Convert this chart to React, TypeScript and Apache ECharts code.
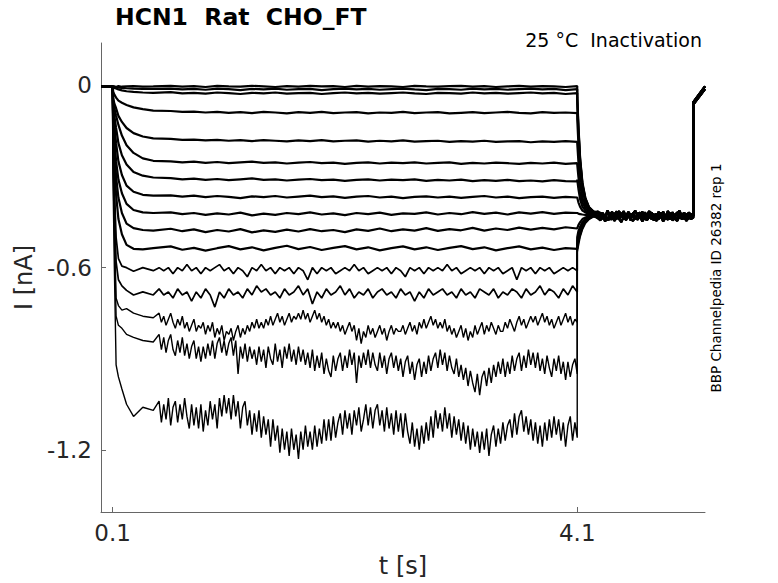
import React, { useEffect, useRef } from "react";
import * as echarts from "echarts";

// ---------- axes ----------
const X_TICKS = [0.1, 4.1];
const Y_TICKS = [-1.2, -0.6, 0];

// ---------- time bases (s) ----------
const T_PRE = [0, 0.1];
const PRE = [-0.002, -0.003];
const T_ACT = [0.105, 0.115, 0.13, 0.15, 0.18, 0.22, 0.28, 0.36, 0.45];
const T_Q = [0.6,0.7,0.8,0.9,1.0,1.1,1.2,1.3,1.4,1.5,1.6,1.7,1.8,1.9,2.0,2.1,2.2,2.3,2.4,2.5,2.6,2.7,2.8,2.9,3.0,3.1,3.2,3.3,3.4,3.5,3.6,3.7,3.8,3.9,4.0,4.1];
const T_N = [0.5,0.54,0.58,0.62,0.66,0.7,0.74,0.78,0.82,0.86,
  0.9,0.94,0.98,1.02,1.06,1.1,1.14,1.18,1.22,1.26,
  1.3,1.34,1.38,1.42,1.46,1.5,1.54,1.58,1.62,1.66,
  1.7,1.74,1.78,1.82,1.86,1.9,1.94,1.98,2.02,2.06,
  2.1,2.14,2.18,2.22,2.26,2.3,2.34,2.38,2.42,2.46,
  2.5,2.54,2.58,2.62,2.66,2.7,2.74,2.78,2.82,2.86,
  2.9,2.94,2.98,3.02,3.06,3.1,3.14,3.18,3.22,3.26,
  3.3,3.34,3.38,3.42,3.46,3.5,3.54,3.58,3.62,3.66,
  3.7,3.74,3.78,3.82,3.86,3.9,3.94,3.98,4.02,4.06,
  4.1];
const T_F = [0.5,0.52,0.54,0.56,0.58,0.6,0.62,0.64,0.66,0.68,
  0.7,0.72,0.74,0.76,0.78,0.8,0.82,0.84,0.86,0.88,
  0.9,0.92,0.94,0.96,0.98,1.0,1.02,1.04,1.06,1.08,
  1.1,1.12,1.14,1.16,1.18,1.2,1.22,1.24,1.26,1.28,
  1.3,1.32,1.34,1.36,1.38,1.4,1.42,1.44,1.46,1.48,
  1.5,1.52,1.54,1.56,1.58,1.6,1.62,1.64,1.66,1.68,
  1.7,1.72,1.74,1.76,1.78,1.8,1.82,1.84,1.86,1.88,
  1.9,1.92,1.94,1.96,1.98,2.0,2.02,2.04,2.06,2.08,
  2.1,2.12,2.14,2.16,2.18,2.2,2.22,2.24,2.26,2.28,
  2.3,2.32,2.34,2.36,2.38,2.4,2.42,2.44,2.46,2.48,
  2.5,2.52,2.54,2.56,2.58,2.6,2.62,2.64,2.66,2.68,
  2.7,2.72,2.74,2.76,2.78,2.8,2.82,2.84,2.86,2.88,
  2.9,2.92,2.94,2.96,2.98,3.0,3.02,3.04,3.06,3.08,
  3.1,3.12,3.14,3.16,3.18,3.2,3.22,3.24,3.26,3.28,
  3.3,3.32,3.34,3.36,3.38,3.4,3.42,3.44,3.46,3.48,
  3.5,3.52,3.54,3.56,3.58,3.6,3.62,3.64,3.66,3.68,
  3.7,3.72,3.74,3.76,3.78,3.8,3.82,3.84,3.86,3.88,
  3.9,3.92,3.94,3.96,3.98,4.0,4.02,4.04,4.06,4.08,
  4.1];
const T_DEC = [4.1, 4.11, 4.125, 4.145, 4.17, 4.2, 4.24];
const T_BAND = [4.28,4.3,4.32,4.34,4.36,4.38,4.4,4.42,4.44,4.46,
  4.48,4.5,4.52,4.54,4.56,4.58,4.6,4.62,4.64,4.66,
  4.68,4.7,4.72,4.74,4.76,4.78,4.8,4.82,4.84,4.86,
  4.88,4.9,4.92,4.94,4.96,4.98,5.0,5.02,5.04,5.06,
  5.08,5.1];
const T_POST = [5.1, 5.2];

// ---------- activation (nA) ----------
const A1 = [-0.004,-0.003,-0.005,-0.002,-0.004,-0.003,-0.002,-0.004,-0.003];
const A2 = [-0.004,-0.005,-0.006,-0.007,-0.008,-0.009,-0.010,-0.011,-0.011];
const A3 = [-0.006,-0.008,-0.010,-0.013,-0.016,-0.019,-0.021,-0.023,-0.024];
const A4 = [-0.02,-0.03,-0.04,-0.05,-0.057,-0.064,-0.072,-0.078,-0.083];
const A5 = [-0.04,-0.06,-0.075,-0.10,-0.12,-0.14,-0.157,-0.168,-0.174];
const A6 = [-0.06,-0.075,-0.10,-0.13,-0.165,-0.197,-0.222,-0.24,-0.248];
const A7 = [-0.08,-0.10,-0.14,-0.19,-0.23,-0.26,-0.285,-0.297,-0.303];
const A8 = [-0.10,-0.13,-0.19,-0.25,-0.295,-0.33,-0.35,-0.36,-0.363];
const A9 = [-0.12,-0.17,-0.25,-0.31,-0.355,-0.39,-0.41,-0.418,-0.42];
const A10 = [-0.15,-0.21,-0.30,-0.37,-0.42,-0.455,-0.47,-0.476,-0.478];
const A11 = [-0.18,-0.26,-0.36,-0.44,-0.49,-0.525,-0.538,-0.54,-0.536];
const A12 = [-0.22,-0.33,-0.50,-0.57,-0.595,-0.60,-0.612,-0.60,-0.61];
const A13 = [-0.25,-0.38,-0.58,-0.64,-0.66,-0.675,-0.69,-0.68,-0.69];
const A14 = [-0.28,-0.45,-0.70,-0.725,-0.74,-0.735,-0.75,-0.76,-0.765];
const A15 = [-0.30,-0.50,-0.76,-0.79,-0.80,-0.82,-0.83,-0.84,-0.845];
const A16 = [-0.35,-0.60,-0.92,-0.96,-1.00,-1.05,-1.09,-1.06,-1.07];

// ---------- steady state, quiet traces on T_Q ----------
const S1 = [-0.001,-0.004,-0.002,-0.005,-0.001,-0.003,-0.004,-0.001,-0.003,-0.005,-0.002,-0.004,
  -0.001,-0.003,-0.002,-0.005,-0.001,-0.004,-0.002,-0.003,-0.005,-0.001,-0.003,-0.004,
  -0.002,-0.001,-0.004,-0.002,-0.005,-0.003,-0.001,-0.004,-0.002,-0.003,-0.005,-0.002];
const S2 = [-0.010,-0.013,-0.011,-0.014,-0.010,-0.012,-0.015,-0.011,-0.013,-0.010,-0.014,-0.012,
  -0.011,-0.015,-0.012,-0.010,-0.013,-0.011,-0.014,-0.012,-0.010,-0.013,-0.015,-0.011,
  -0.012,-0.014,-0.010,-0.013,-0.011,-0.014,-0.012,-0.010,-0.013,-0.011,-0.015,-0.012];
const S3 = [-0.022,-0.026,-0.024,-0.027,-0.023,-0.025,-0.028,-0.024,-0.026,-0.023,-0.027,-0.025,
  -0.024,-0.028,-0.025,-0.023,-0.026,-0.024,-0.027,-0.025,-0.023,-0.026,-0.028,-0.024,
  -0.025,-0.027,-0.023,-0.026,-0.024,-0.027,-0.025,-0.023,-0.026,-0.024,-0.028,-0.025];
const S4 = [-0.084,-0.087,-0.086,-0.089,-0.087,-0.090,-0.088,-0.091,-0.087,-0.089,-0.092,-0.088,
  -0.090,-0.087,-0.091,-0.089,-0.088,-0.092,-0.089,-0.090,-0.087,-0.091,-0.089,-0.088,
  -0.092,-0.090,-0.088,-0.091,-0.089,-0.087,-0.090,-0.092,-0.088,-0.090,-0.089,-0.091];
const S5 = [-0.176,-0.179,-0.178,-0.181,-0.179,-0.182,-0.180,-0.183,-0.180,-0.182,-0.184,-0.181,
  -0.183,-0.180,-0.184,-0.182,-0.181,-0.185,-0.182,-0.184,-0.181,-0.185,-0.183,-0.182,
  -0.186,-0.183,-0.185,-0.182,-0.186,-0.184,-0.183,-0.187,-0.184,-0.186,-0.183,-0.186];
const S6 = [-0.250,-0.253,-0.251,-0.255,-0.252,-0.256,-0.253,-0.251,-0.255,-0.253,-0.257,-0.254,
  -0.252,-0.256,-0.254,-0.258,-0.255,-0.253,-0.257,-0.254,-0.256,-0.253,-0.257,-0.255,
  -0.253,-0.258,-0.255,-0.257,-0.254,-0.256,-0.258,-0.255,-0.257,-0.254,-0.258,-0.256];
const S7 = [-0.305,-0.309,-0.307,-0.311,-0.308,-0.312,-0.309,-0.306,-0.311,-0.309,-0.313,-0.310,
  -0.308,-0.312,-0.310,-0.314,-0.311,-0.309,-0.313,-0.310,-0.312,-0.309,-0.314,-0.311,
  -0.313,-0.310,-0.315,-0.312,-0.314,-0.311,-0.315,-0.313,-0.316,-0.312,-0.315,-0.316];
const S8 = [-0.362,-0.366,-0.363,-0.368,-0.364,-0.367,-0.371,-0.365,-0.368,-0.364,-0.369,-0.366,
  -0.363,-0.368,-0.365,-0.370,-0.366,-0.364,-0.369,-0.366,-0.371,-0.367,-0.365,-0.369,
  -0.366,-0.370,-0.367,-0.364,-0.369,-0.366,-0.371,-0.368,-0.366,-0.370,-0.367,-0.369];
const S9 = [-0.418,-0.424,-0.420,-0.426,-0.421,-0.425,-0.419,-0.428,-0.422,-0.426,-0.420,-0.424,
  -0.418,-0.425,-0.421,-0.427,-0.420,-0.424,-0.419,-0.426,-0.421,-0.423,-0.418,-0.425,
  -0.420,-0.424,-0.417,-0.423,-0.419,-0.425,-0.418,-0.422,-0.417,-0.423,-0.419,-0.420];
const S10 = [-0.472,-0.480,-0.474,-0.483,-0.476,-0.481,-0.473,-0.484,-0.477,-0.482,-0.475,-0.481,
  -0.473,-0.480,-0.476,-0.483,-0.474,-0.479,-0.471,-0.480,-0.474,-0.478,-0.470,-0.479,
  -0.473,-0.477,-0.469,-0.478,-0.471,-0.476,-0.468,-0.475,-0.469,-0.474,-0.467,-0.471];
const S11 = [-0.530,-0.541,-0.535,-0.544,-0.536,-0.529,-0.540,-0.533,-0.543,-0.535,-0.528,-0.539,
  -0.532,-0.542,-0.535,-0.529,-0.540,-0.533,-0.543,-0.536,-0.530,-0.540,-0.533,-0.542,
  -0.535,-0.529,-0.539,-0.533,-0.543,-0.536,-0.530,-0.540,-0.534,-0.542,-0.536,-0.538];

// ---------- steady state, noisier traces on T_N ----------
const S12 = [-0.60,-0.61,-0.60,-0.62,-0.60,-0.61,-0.59,-0.61,-0.60,-0.62,
  -0.60,-0.61,-0.60,-0.59,-0.61,-0.60,-0.62,-0.60,-0.61,-0.63,
  -0.60,-0.61,-0.59,-0.61,-0.60,-0.62,-0.60,-0.61,-0.60,-0.62,
  -0.60,-0.61,-0.64,-0.60,-0.62,-0.60,-0.61,-0.60,-0.62,-0.61,
  -0.60,-0.61,-0.59,-0.61,-0.60,-0.62,-0.61,-0.60,-0.61,-0.60,
  -0.62,-0.60,-0.61,-0.63,-0.60,-0.61,-0.60,-0.62,-0.60,-0.61,
  -0.60,-0.61,-0.59,-0.61,-0.60,-0.62,-0.61,-0.60,-0.61,-0.60,
  -0.62,-0.60,-0.61,-0.60,-0.62,-0.61,-0.60,-0.64,-0.60,-0.61,
  -0.60,-0.62,-0.60,-0.61,-0.60,-0.62,-0.61,-0.60,-0.61,-0.60,
  -0.61];
const S13 = [-0.67,-0.69,-0.68,-0.70,-0.67,-0.69,-0.68,-0.71,-0.68,-0.70,
  -0.67,-0.69,-0.73,-0.68,-0.70,-0.67,-0.69,-0.68,-0.70,-0.67,
  -0.69,-0.66,-0.68,-0.67,-0.69,-0.68,-0.70,-0.67,-0.69,-0.68,
  -0.66,-0.69,-0.67,-0.72,-0.68,-0.70,-0.67,-0.69,-0.68,-0.66,
  -0.69,-0.67,-0.70,-0.68,-0.69,-0.67,-0.70,-0.68,-0.67,-0.69,
  -0.68,-0.70,-0.67,-0.69,-0.68,-0.71,-0.68,-0.70,-0.67,-0.69,
  -0.68,-0.67,-0.69,-0.68,-0.70,-0.67,-0.69,-0.68,-0.70,-0.67,
  -0.68,-0.69,-0.67,-0.70,-0.68,-0.69,-0.67,-0.68,-0.70,-0.67,
  -0.69,-0.68,-0.66,-0.69,-0.67,-0.68,-0.70,-0.67,-0.69,-0.66,
  -0.68];

// ---------- steady state, noisiest traces on T_F ----------
const S14 = [-0.75,-0.78,-0.76,-0.79,-0.77,-0.75,-0.78,-0.80,-0.77,-0.79,-0.76,-0.80,-0.78,-0.81,-0.79,-0.77,-0.81,-0.79,
  -0.80,-0.78,-0.82,-0.79,-0.81,-0.78,-0.83,-0.80,-0.82,-0.79,-0.84,-0.81,
  -0.82,-0.80,-0.84,-0.81,-0.79,-0.83,-0.80,-0.82,-0.79,-0.81,-0.78,-0.80,-0.77,-0.80,
  -0.78,-0.80,-0.77,-0.79,-0.76,-0.79,-0.77,-0.75,-0.78,-0.76,-0.79,-0.77,-0.75,-0.78,-0.76,-0.77,
  -0.75,-0.77,-0.74,-0.77,-0.75,-0.78,-0.76,-0.74,-0.77,-0.75,-0.78,-0.76,-0.79,-0.77,-0.80,-0.78,
  -0.80,-0.78,-0.81,-0.79,-0.82,-0.80,-0.78,-0.81,-0.79,-0.84,-0.80,-0.85,-0.81,-0.83,
  -0.79,-0.82,-0.80,-0.83,-0.81,-0.79,-0.82,-0.80,-0.84,-0.81,-0.79,-0.82,-0.80,-0.81,
  -0.81,-0.79,-0.82,-0.80,-0.78,-0.81,-0.79,-0.82,-0.78,-0.80,-0.77,-0.80,-0.78,-0.76,-0.79,-0.77,-0.80,-0.78,
  -0.80,-0.77,-0.81,-0.79,-0.82,-0.80,-0.83,-0.81,-0.79,-0.83,
  -0.80,-0.84,-0.81,-0.83,-0.79,-0.82,-0.80,-0.78,-0.82,-0.79,-0.81,-0.78,-0.80,-0.82,-0.79,-0.81,
  -0.81,-0.78,-0.80,-0.77,-0.79,-0.81,-0.78,-0.76,-0.79,-0.77,-0.80,-0.78,-0.76,-0.78,
  -0.76,-0.79,-0.77,-0.75,-0.78,-0.76,-0.79,-0.77,-0.80,-0.78,-0.76,-0.79,-0.77,-0.75,-0.78,-0.76,-0.79,-0.77,-0.78];
const S15 = [-0.82,-0.87,-0.83,-0.88,-0.84,-0.82,-0.87,-0.89,-0.84,-0.88,-0.83,-0.89,-0.85,-0.90,-0.86,-0.84,-0.90,-0.86,
  -0.91,-0.86,-0.90,-0.85,-0.89,-0.84,-0.90,-0.85,-0.83,-0.88,-0.84,-0.89,
  -0.85,-0.83,-0.89,-0.84,-0.95,-0.86,-0.90,-0.85,-0.91,-0.86,-0.90,-0.87,
  -0.92,-0.86,-0.91,-0.87,-0.93,-0.86,-0.90,-0.92,-0.85,-0.91,-0.87,-0.93,-0.86,-0.90,-0.85,-0.91,-0.87,-0.92,
  -0.86,-0.91,-0.87,-0.92,-0.88,-0.93,-0.87,-0.94,-0.89,-0.93,-0.88,-0.95,-0.90,-0.94,
  -0.96,-0.89,-0.94,-0.90,-0.88,-0.94,-0.89,-0.93,-0.87,-0.92,-0.88,-0.98,-0.89,-0.93,-0.88,-0.92,
  -0.87,-0.93,-0.88,-0.92,-0.94,-0.88,-0.93,-0.89,-0.95,-0.90,
  -0.88,-0.93,-0.89,-0.94,-0.90,-0.96,-0.91,-0.89,-0.95,-0.91,-0.97,-0.92,
  -0.90,-0.96,-0.91,-0.95,-0.89,-0.94,-0.90,-0.88,-0.93,-0.87,
  -0.92,-0.88,-0.94,-0.89,-0.93,-0.95,-0.90,-0.96,-0.92,-0.97,-0.93,-0.99,-0.94,-0.98,
  -1.01,-0.95,-1.02,-0.96,-0.94,-0.99,-0.93,-0.98,-0.92,-0.96,-0.91,-0.95,
  -0.90,-0.96,-0.91,-0.95,-0.89,-0.94,-0.90,-0.88,-0.94,-0.89,-0.93,-0.87,-0.92,-0.88,
  -0.93,-0.88,-0.94,-0.90,-0.95,-0.89,-0.93,-0.96,-0.90,-0.94,-0.89,-0.95,-0.91,-0.97,
  -0.91,-0.96,-0.92,-0.90,-0.95];
const S16 = [-1.04,-1.11,-1.05,-1.10,-1.03,-1.12,-1.06,-1.04,-1.11,-1.05,
  -1.10,-1.03,-1.09,-1.13,-1.05,-1.12,-1.06,-1.13,
  -1.05,-1.14,-1.07,-1.12,-1.04,-1.10,-1.05,-1.13,-1.03,-1.09,-1.02,-1.08,
  -1.03,-1.10,-1.02,-1.09,-1.04,-1.13,-1.06,-1.04,-1.12,-1.07,-1.15,-1.08,
  -1.14,-1.07,-1.16,-1.09,-1.15,-1.10,-1.19,-1.10,-1.17,-1.12,-1.21,-1.13,-1.20,-1.14,
  -1.22,-1.13,-1.20,-1.15,-1.23,-1.14,-1.20,-1.12,-1.19,-1.14,
  -1.20,-1.12,-1.19,-1.13,-1.18,-1.10,-1.17,-1.10,
  -1.17,-1.09,-1.16,-1.11,-1.08,-1.15,-1.07,-1.13,
  -1.08,-1.15,-1.07,-1.12,-1.06,-1.14,-1.10,-1.05,-1.12,-1.06,-1.13,-1.07,
  -1.05,-1.12,-1.07,-1.14,-1.06,-1.13,-1.08,-1.15,-1.07,-1.14,
  -1.08,-1.16,-1.08,-1.14,-1.18,-1.11,-1.19,-1.13,
  -1.20,-1.12,-1.18,-1.11,-1.17,-1.09,-1.16,-1.07,-1.13,-1.08,
  -1.14,-1.06,-1.13,-1.08,-1.16,-1.09,-1.15,-1.10,
  -1.17,-1.11,-1.18,-1.12,-1.20,-1.13,-1.19,-1.14,
  -1.21,-1.14,-1.20,-1.13,-1.22,-1.15,-1.12,-1.19,-1.13,-1.18,
  -1.11,-1.17,-1.12,-1.10,-1.16,-1.08,-1.15,-1.09,
  -1.07,-1.14,-1.09,-1.15,-1.10,-1.17,-1.11,-1.18,
  -1.12,-1.19,-1.11,-1.17,-1.10,-1.16,-1.09,-1.15,
  -1.10,-1.17,-1.11,-1.19,-1.12,-1.09,-1.17,-1.11,-1.16];

// ---------- tail decay after 4.1 s (on T_DEC) ----------
const D1 = [-0.03,-0.13,-0.24,-0.32,-0.37,-0.40,-0.415];
const D2 = [-0.04,-0.14,-0.245,-0.325,-0.372,-0.40,-0.415];
const D3 = [-0.05,-0.15,-0.25,-0.33,-0.375,-0.402,-0.416];
const D4 = [-0.11,-0.19,-0.28,-0.345,-0.385,-0.405,-0.418];
const D5 = [-0.19,-0.25,-0.32,-0.37,-0.395,-0.41,-0.42];
const D6 = [-0.26,-0.30,-0.35,-0.385,-0.405,-0.415,-0.422];
const D7 = [-0.31,-0.34,-0.375,-0.40,-0.412,-0.42,-0.424];
const D8 = [-0.37,-0.385,-0.40,-0.412,-0.418,-0.422,-0.425];
const D9 = [-0.42,-0.422,-0.424,-0.425,-0.426,-0.426,-0.426];
const D10 = [-0.47,-0.46,-0.45,-0.44,-0.435,-0.43,-0.428];
const D11 = [-0.50,-0.48,-0.465,-0.45,-0.44,-0.433,-0.43];
const D12 = [-0.51,-0.49,-0.47,-0.455,-0.443,-0.435,-0.43];
const D13 = [-0.52,-0.50,-0.48,-0.46,-0.445,-0.437,-0.43];
const D14 = [-0.53,-0.51,-0.49,-0.465,-0.448,-0.438,-0.432];
const D15 = [-0.54,-0.52,-0.495,-0.47,-0.45,-0.44,-0.432];
const D16 = [-0.55,-0.53,-0.50,-0.475,-0.455,-0.442,-0.433];

// ---------- tail plateau (on T_BAND) ----------
const BAND_A = [-0.42,-0.435,-0.422,-0.438,-0.418,-0.43,-0.442,-0.425,-0.415,-0.432,-0.42,-0.44,-0.428,-0.418,-0.436,-0.424,-0.44,-0.42,-0.432,-0.416,-0.43,-0.444,-0.426,-0.418,-0.434,-0.422,-0.44,-0.428,-0.416,-0.432,-0.424,-0.442,-0.42,-0.43,-0.418,-0.436,-0.426,-0.44,-0.422,-0.432,-0.425,-0.43];
const BAND_B = [-0.432,-0.418,-0.44,-0.425,-0.445,-0.428,-0.416,-0.436,-0.422,-0.44,-0.43,-0.414,-0.434,-0.426,-0.444,-0.42,-0.438,-0.428,-0.418,-0.442,-0.424,-0.436,-0.416,-0.43,-0.445,-0.422,-0.434,-0.418,-0.44,-0.426,-0.436,-0.42,-0.438,-0.428,-0.444,-0.422,-0.434,-0.418,-0.438,-0.426,-0.434,-0.428];
const BAND_C = [-0.415,-0.428,-0.42,-0.434,-0.412,-0.426,-0.418,-0.436,-0.424,-0.414,-0.43,-0.42,-0.438,-0.416,-0.428,-0.422,-0.412,-0.432,-0.42,-0.436,-0.418,-0.426,-0.414,-0.43,-0.424,-0.438,-0.416,-0.428,-0.42,-0.434,-0.414,-0.426,-0.418,-0.432,-0.422,-0.412,-0.43,-0.42,-0.434,-0.418,-0.426,-0.422];
const BAND_D = [-0.438,-0.444,-0.43,-0.448,-0.434,-0.442,-0.428,-0.446,-0.436,-0.44,-0.45,-0.432,-0.444,-0.428,-0.44,-0.446,-0.434,-0.442,-0.43,-0.448,-0.436,-0.444,-0.432,-0.44,-0.428,-0.446,-0.438,-0.432,-0.448,-0.436,-0.442,-0.43,-0.444,-0.438,-0.446,-0.432,-0.44,-0.434,-0.446,-0.436,-0.44,-0.435];

// ---------- after 5.1 s (on T_POST) ----------
const POST_A = [-0.055, -0.003];
const POST_B = [-0.062, -0.012];

const TRACES = [
  { act: A1, tss: T_Q, ss: S1, dec: D1, band: BAND_A, post: POST_A, w: 2.2 },
  { act: A2, tss: T_Q, ss: S2, dec: D2, band: BAND_B, post: POST_B, w: 2.2 },
  { act: A3, tss: T_Q, ss: S3, dec: D3, band: BAND_C, post: POST_A, w: 2.2 },
  { act: A4, tss: T_Q, ss: S4, dec: D4, band: BAND_D, post: POST_B, w: 2.2 },
  { act: A5, tss: T_Q, ss: S5, dec: D5, band: BAND_A, post: POST_A, w: 2.2 },
  { act: A6, tss: T_Q, ss: S6, dec: D6, band: BAND_B, post: POST_B, w: 2.2 },
  { act: A7, tss: T_Q, ss: S7, dec: D7, band: BAND_C, post: POST_A, w: 2.2 },
  { act: A8, tss: T_Q, ss: S8, dec: D8, band: BAND_D, post: POST_B, w: 2.2 },
  { act: A9, tss: T_Q, ss: S9, dec: D9, band: BAND_A, post: POST_A, w: 2.2 },
  { act: A10, tss: T_Q, ss: S10, dec: D10, band: BAND_B, post: POST_B, w: 2.2 },
  { act: A11, tss: T_Q, ss: S11, dec: D11, band: BAND_C, post: POST_A, w: 2.2 },
  { act: A12, tss: T_N, ss: S12, dec: D12, band: BAND_D, post: POST_B, w: 1.7 },
  { act: A13, tss: T_N, ss: S13, dec: D13, band: BAND_A, post: POST_A, w: 1.7 },
  { act: A14, tss: T_F, ss: S14, dec: D14, band: BAND_B, post: POST_B, w: 1.4 },
  { act: A15, tss: T_F, ss: S15, dec: D15, band: BAND_C, post: POST_A, w: 1.4 },
  { act: A16, tss: T_F, ss: S16, dec: D16, band: BAND_D, post: POST_B, w: 1.4 },
];

const pairs = (ts: number[], vs: number[]) => ts.map((t, i) => [t, vs[i]]);

const FONT = "DejaVu Sans";
const AX = "#666666";
const TXT = "#262626";

export default function App() {
  const ref = useRef<HTMLDivElement>(null);
  useEffect(() => {
    if (!ref.current) return;
    const chart = echarts.init(ref.current, undefined, { renderer: "svg" });
    const series = TRACES.map((tr, k) => ({
      type: "line",
      name: "trace" + (k + 1),
      showSymbol: false,
      symbol: "none",
      silent: true,
      lineStyle: { color: "#000", width: tr.w },
      data: [
        ...pairs(T_PRE, PRE),
        ...pairs(T_ACT, tr.act),
        ...pairs(tr.tss, tr.ss),
        ...pairs(T_DEC, tr.dec),
        ...pairs(T_BAND, tr.band),
        ...pairs(T_POST, tr.post),
      ],
    }));
    chart.setOption({
      animation: false,
      backgroundColor: "#ffffff",
      grid: { left: 101, right: 73, top: 43, bottom: 71, containLabel: false },
      xAxis: {
        type: "value",
        min: 0,
        max: 5.2,
        axisLine: { show: true, onZero: false, lineStyle: { color: AX, width: 1 } },
        axisTick: { show: true, inside: true, length: 5, customValues: X_TICKS, lineStyle: { color: AX } },
        axisLabel: { customValues: X_TICKS, color: TXT, fontSize: 23, fontFamily: FONT, margin: 9, formatter: (v: number) => String(v) },
        splitLine: { show: false },
        name: "t [s]",
        nameLocation: "middle",
        nameGap: 42,
        nameTextStyle: { fontSize: 24, color: TXT, fontFamily: FONT },
      },
      yAxis: {
        type: "value",
        min: -1.405,
        max: 0.14,
        axisLine: { show: true, onZero: false, lineStyle: { color: AX, width: 1 } },
        axisTick: { show: true, inside: true, length: 5, customValues: Y_TICKS, lineStyle: { color: AX } },
        axisLabel: { customValues: Y_TICKS, color: TXT, fontSize: 23, fontFamily: FONT, margin: 9, formatter: (v: number) => (v === 0 ? "0" : String(v)) },
        splitLine: { show: false },
        name: "I [nA]",
        nameLocation: "middle",
        nameGap: 58,
        nameTextStyle: { fontSize: 24, color: TXT, fontFamily: FONT },
      },
      graphic: [
        {
          type: "text",
          left: 115,
          top: 5,
          style: { text: "HCN1  Rat  CHO_FT", font: `bold 23.5px "${FONT}"`, fill: "#000" },
        },
        {
          type: "text",
          right: 76,
          top: 30,
          style: { text: "25 °C  Inactivation", font: `19px "${FONT}"`, fill: "#000" },
        },
        {
          type: "text",
          x: 716,
          y: 278,
          rotation: Math.PI / 2,
          style: {
            text: "BBP Channelpedia ID 26382 rep 1",
            font: `13.5px "${FONT}"`,
            fill: "#000",
            align: "center",
            verticalAlign: "middle",
          },
        },
      ],
      series,
    });
    return () => chart.dispose();
  }, []);
  return (
    <div
      ref={ref}
      style={{ position: "fixed", left: 0, top: 0, width: 778, height: 583, background: "#fff" }}
    />
  );
}
